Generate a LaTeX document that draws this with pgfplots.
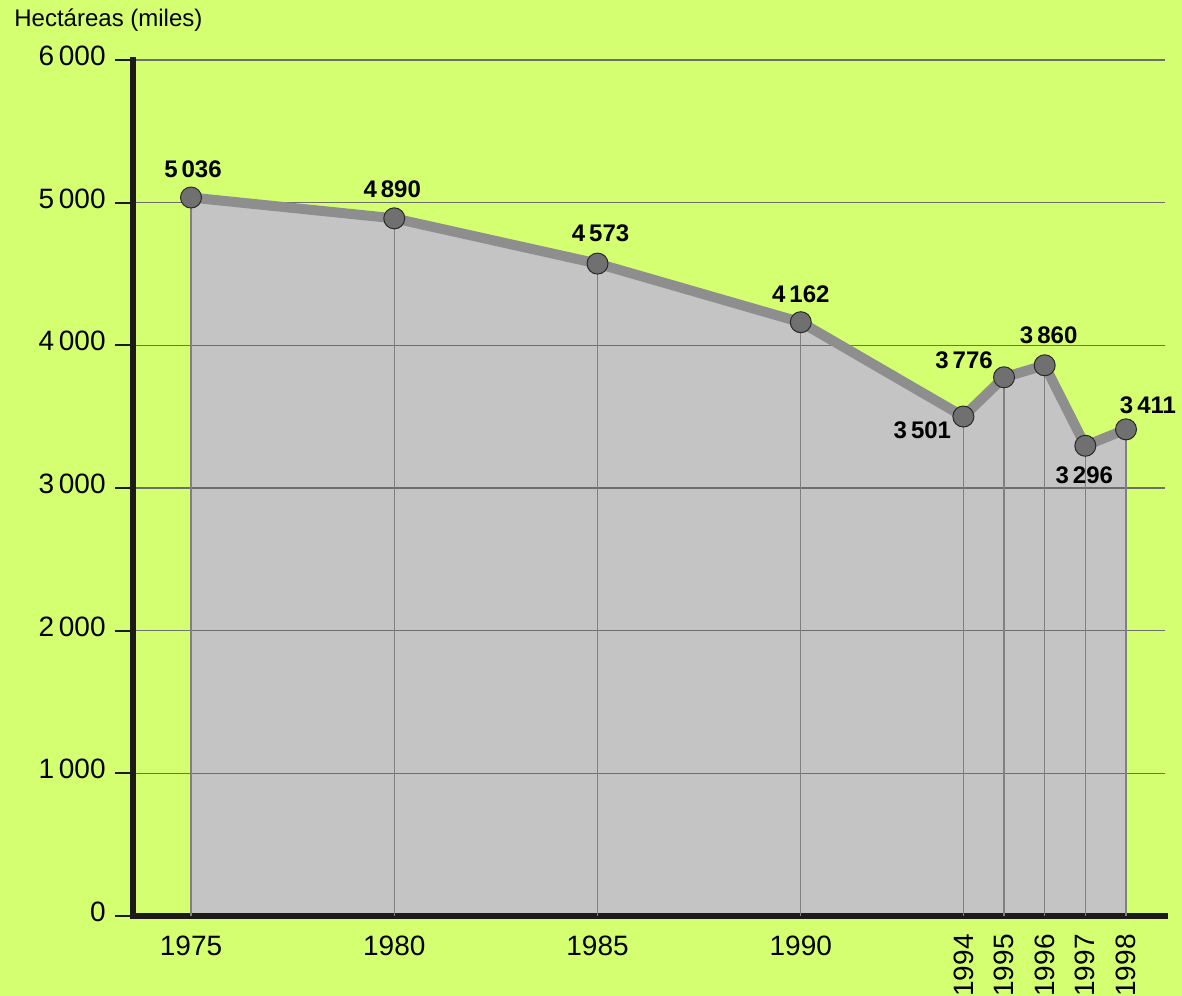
\documentclass[border=0pt]{standalone}
\usepackage{pgfplots}
\pgfplotsset{compat=1.18}
\usepackage{pgfplotstable}
\usepackage{fontspec}
\setmainfont{Liberation Sans}
\definecolor{bg}{RGB}{212,255,112}
\definecolor{areagray}{RGB}{196,196,196}
\definecolor{linegray}{RGB}{142,142,142}
\definecolor{markgray}{RGB}{112,112,112}
\definecolor{markedge}{RGB}{40,40,40}
\definecolor{dropgray}{RGB}{128,128,128}
\definecolor{gridgray}{RGB}{110,110,110}
\definecolor{axisblack}{RGB}{30,26,26}

\pgfplotstableread{
year val dx dy
1975 5036 1 14
1980 4890 -1 14.5
1985 4573 1.5 15
1990 4162 0 14
1994 3501 -20.5 -7
1995 3776 -20 8.5
1996 3860 2 15
1997 3296 -0.5 -14.5
1998 3411 11 12
}\datatable

\begin{document}
\begin{tikzpicture}
\begin{axis}[
  at={(66.5pt,39.5pt)}, anchor=south west,
  scale only axis, width=516pt, height=428pt,
  xmin=1973.573, xmax=1998.96, ymin=0, ymax=6000,
  set layers, clip=false,
  axis x line=bottom, axis y line=left,
  axis line style={-, line width=3pt, color=axisblack, line cap=rect},
  xtick={1975,1980,1985,1990}, xticklabels={1975,1980,1985,1990},
  xtick style={draw=none},
  extra x ticks={1994,1995,1996,1997,1998},
  extra x tick labels={1994,1995,1996,1997,1998},
  extra x tick style={xtick style={draw=none}, xmajorgrids=false,
    xticklabel style={rotate=90, anchor=east, inner sep=0pt}},
  xticklabel style={anchor=north, inner xsep=0pt, inner ysep=1pt},
  ytick={0,1000,2000,3000,4000,5000,6000},
  yticklabels={0,1\,000,2\,000,3\,000,4\,000,5\,000,6\,000},
  ytick style={line width=1pt, color=axisblack},
  tick align=outside, major tick length=9pt,
  yticklabel style={anchor=east, inner sep=0pt, xshift=-4.5pt, yshift=2pt},
  ymajorgrids,
  major grid style={color=gridgray, line width=0.6pt},
  tick label style={font=\fontsize{14}{16}\selectfont, text=black},
]
\begin{pgfonlayer}{axis background}
\fill[bg] (rel axis cs:-0.3,-0.3) rectangle (rel axis cs:1.3,1.3);
\end{pgfonlayer}
\addplot[fill=areagray, draw=none, on layer=axis background] table[x=year,y=val]{\datatable} \closedcycle;
\addplot[ycomb, color=dropgray, line width=0.65pt, mark=none] table[x=year,y=val]{\datatable};
\addplot[line width=5pt, color=linegray, mark=*, mark size=5.25pt,
  mark options={fill=markgray, draw=markedge, line width=0.5pt, solid},
  point meta=y,
  nodes near coords={\pgfmathprintnumber[1000 sep={\,},assume math mode=true]{\pgfplotspointmeta}},
  visualization depends on={\thisrow{dx} \as \labdx},
  visualization depends on={\thisrow{dy} \as \labdy},
  every node near coord/.append style={anchor=center, xshift=\labdx pt, yshift=\labdy pt,
    font=\fontsize{12}{14}\selectfont\bfseries, text=black}
] table[x=year,y=val]{\datatable};
\end{axis}
\node[anchor=base west, inner sep=0pt, font=\fontsize{12}{14}\selectfont, text=black] at (7pt,484pt) {Hectáreas (miles)};
\pgfresetboundingbox
\useasboundingbox (0pt,0pt) rectangle (591pt,497.5pt);
\end{tikzpicture}
\end{document}
